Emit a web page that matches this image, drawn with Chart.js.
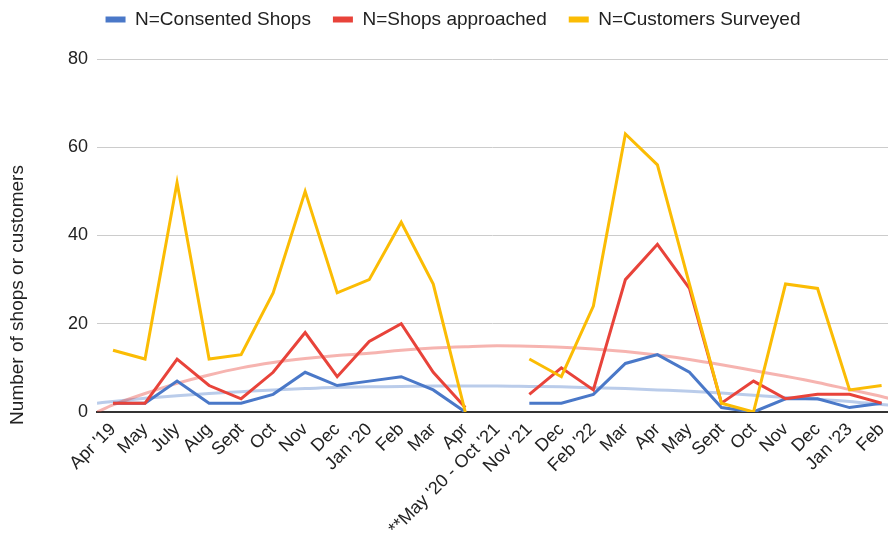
<!DOCTYPE html>
<html>
<head>
<meta charset="utf-8">
<script src="https://cdn.jsdelivr.net/npm/chart.js@4.4.1/dist/chart.umd.min.js"></script>
<style>
  html, body { margin: 0; padding: 0; background: #fff; overflow: hidden; }
</style>
</head>
<body>
<canvas id="myChart" width="888" height="537"></canvas>
<script>
// Meses de cada visita (el hueco de la pandemia queda como una sola categoría)
const labels = ["Apr '19", "May", "July", "Aug", "Sept", "Oct", "Nov", "Dec", "Jan '20", "Feb", "Mar", "Apr",
  "**May '20 - Oct '21", "Nov '21", "Dec", "Feb '22", "Mar", "Apr", "May", "Sept", "Oct", "Nov", "Dec", "Jan '23", "Feb"];

const consentedShops = [2, 2, 7, 2, 2, 4, 9, 6, 7, 8, 5, 0, null, 2, 2, 4, 11, 13, 9, 1, 0, 3, 3, 1, 2];
const shopsApproached = [2, 2, 12, 6, 3, 9, 18, 8, 16, 20, 9, 1, null, 4, 10, 5, 30, 38, 28, 2, 7, 3, 4, 4, 2];
const customersSurveyed = [14, 12, 52, 12, 13, 27, 50, 27, 30, 43, 29, 0, null, 12, 8, 24, 63, 56, 29, 2, 0, 29, 28, 5, 6];

// Líneas de tendencia (posición en el eje x y valor)
const trendX = [-0.5, 0, 1, 2, 3, 4, 5, 6, 7, 8, 9, 10, 11, 12, 13, 14, 15, 16, 17, 18, 19, 20, 21, 22, 23, 24, 24.5];
const trendApproached = [0.0, 1.6, 4.2, 6.5, 8.4, 10.0, 11.2, 12.1, 12.8, 13.3, 14.0, 14.5, 14.8, 15.0, 14.9, 14.7,
  14.3, 13.7, 12.9, 11.9, 10.7, 9.4, 8.1, 6.7, 5.1, 3.5, 2.6];
const trendConsented = [2.0, 2.4, 3.1, 3.7, 4.2, 4.6, 5.0, 5.3, 5.6, 5.7, 5.8, 5.9, 5.9, 5.9, 5.8, 5.7,
  5.5, 5.3, 5.0, 4.7, 4.3, 3.8, 3.3, 2.9, 2.4, 1.7, 1.4];

const yTicks = [0, 20, 40, 60, 80];

const BLUE = '#4a78c8';
const RED = '#e8433a';
const YELLOW = '#fbbc04';
const FONT = "'Liberation Sans', Arial, sans-serif";

const toPoints = arr => arr.map((v, i) => ({ x: i, y: v }));
const toTrend = arr => arr.map((v, i) => ({ x: trendX[i], y: v }));

Chart.defaults.font.family = FONT;
Chart.defaults.color = '#222';

// Título del eje y centrado en toda la altura bajo la leyenda
const yTitle = {
  id: 'yTitle',
  afterDraw(chart) {
    const c = chart.ctx;
    c.save();
    c.translate(18, 295);
    c.rotate(-Math.PI / 2);
    c.font = '19px ' + FONT;
    c.fillStyle = '#222';
    c.textAlign = 'center';
    c.textBaseline = 'middle';
    c.fillText('Number of shops or customers', 0, 0);
    c.restore();
  }
};

// Leyenda más alta y algo desplazada a la derecha
const legendBox = {
  id: 'legendBox',
  beforeInit(chart) {
    const fit = chart.legend.fit;
    chart.legend.fit = function () {
      fit.call(this);
      this.height = 71;
    };
  },
  afterLayout(chart) {
    chart.legend.left += 9;
    chart.legend.right += 9;
  }
};

const ctx = document.getElementById('myChart').getContext('2d');
new Chart(ctx, {
  type: 'line',
  data: {
    datasets: [
      { label: 'N=Consented Shops', data: toPoints(consentedShops), borderColor: BLUE, backgroundColor: BLUE, order: 3 },
      { label: 'N=Shops approached', data: toPoints(shopsApproached), borderColor: RED, backgroundColor: RED, order: 2 },
      { label: 'N=Customers Surveyed', data: toPoints(customersSurveyed), borderColor: YELLOW, backgroundColor: YELLOW, order: 1 },
      { label: 'trend1', data: toTrend(trendConsented), borderColor: 'rgba(74,120,200,0.38)', cubicInterpolationMode: 'monotone', order: 5 },
      { label: 'trend2', data: toTrend(trendApproached), borderColor: 'rgba(232,67,58,0.4)', cubicInterpolationMode: 'monotone', order: 4 }
    ]
  },
  options: {
    responsive: false,
    animation: false,
    layout: { padding: { top: -12, left: 0, right: 0, bottom: 0 } },
    elements: {
      line: { borderWidth: 3, fill: false, tension: 0 },
      point: { radius: 0 }
    },
    plugins: {
      tooltip: { enabled: false },
      legend: {
        position: 'top',
        labels: {
          boxWidth: 20,
          boxHeight: 6,
          padding: 22,
          font: { size: 19 },
          color: '#222',
          sort: (a, b) => a.datasetIndex - b.datasetIndex,
          generateLabels: chart => Chart.defaults.plugins.legend.labels.generateLabels(chart)
            .filter(l => l.datasetIndex < 3)
            .map(l => ({ ...l, lineWidth: 0, fillStyle: l.strokeStyle }))
        }
      }
    },
    scales: {
      x: {
        type: 'linear',
        min: -0.5,
        max: 24.2,
        afterBuildTicks: scale => { scale.ticks = labels.map((_, i) => ({ value: i })); },
        afterFit: scale => { scale.height = 125; scale.paddingRight = 0; },
        grid: { display: false, drawTicks: false },
        border: { display: true, color: '#333', width: 2 },
        ticks: {
          autoSkip: false,
          minRotation: 45,
          maxRotation: 45,
          padding: 7,
          font: { size: 18 },
          color: '#222',
          callback: v => labels[v]
        }
      },
      y: {
        min: 0,
        max: 80,
        afterBuildTicks: scale => { scale.ticks = yTicks.map(v => ({ value: v })); },
        afterFit: scale => { scale.width = 97; },
        grid: {
          drawTicks: false,
          color: c => c.tick.value === 0 ? '#333' : '#ccc',
          lineWidth: c => c.tick.value === 0 ? 2 : 1
        },
        border: { display: false },
        ticks: { padding: 9, font: { size: 18 }, color: '#222' }
      }
    }
  },
  plugins: [yTitle, legendBox]
});
</script>
</body>
</html>
